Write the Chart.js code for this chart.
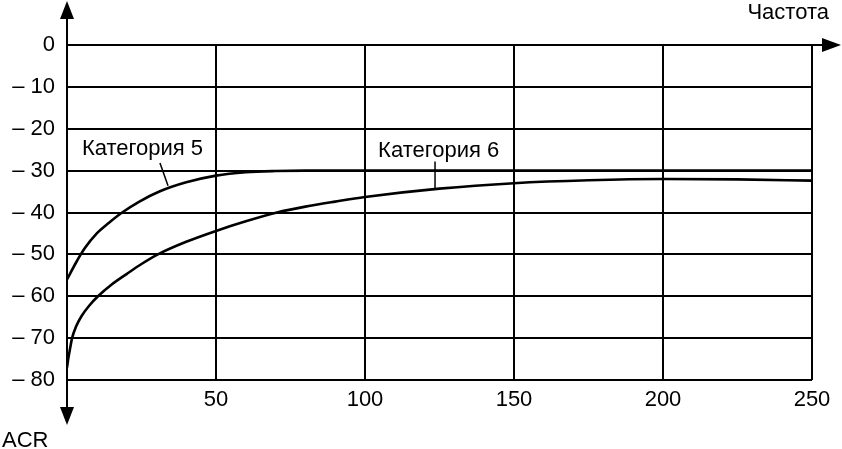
<!DOCTYPE html>
<html>
<head>
<meta charset="utf-8">
<script src="https://cdn.jsdelivr.net/npm/chart.js@4.4.1/dist/chart.umd.min.js"></script>
<style>
  html, body { margin: 0; padding: 0; background: #fff; }
  .chart-container { width: 842px; height: 449px; position: relative; }
</style>
</head>
<body>
<div class="chart-container"><canvas id="myChart"></canvas></div>
<script>
// Données
const xTicks = [0, 50, 100, 150, 200, 250];
const yTicks = [0, -10, -20, -30, -40, -50, -60, -70, -80];

const cat5X = [0, 3, 6, 10, 14, 18.5, 24, 31, 40, 50, 60, 70, 80, 100, 150, 200, 250];
const cat5Y = [-56, -52, -48.5, -45, -42.5, -40, -37.5, -35, -32.8, -31.2, -30.4, -30.1, -30, -30, -30, -30, -30];

const cat6X = [0, 0.5, 1, 1.7, 3, 5, 7.5, 10.4, 15, 20, 25, 30.5, 40, 50, 60, 70.5, 80, 90, 100, 125, 150, 175, 200, 225, 250];
const cat6Y = [-77, -74.6, -72.6, -70, -67.3, -64.6, -62.2, -60, -57.2, -54.7, -52.3, -50, -47, -44.4, -42.1, -40, -38.6, -37.4, -36.3, -34.3, -33, -32.3, -32, -32.1, -32.4];

const fontFamily = '"Liberation Sans", Arial, sans-serif';
const labelFont = '22px ' + fontFamily;

function toPoints(xs, ys) {
    return xs.map((x, i) => ({ x: x, y: ys[i] }));
}

// Flèches des axes, titres et étiquettes des courbes
const decorPlugin = {
    id: 'decor',
    afterDraw(chart) {
        const ctx = chart.ctx;
        const xs = chart.scales.x;
        const ys = chart.scales.y;
        const x0 = xs.getPixelForValue(0);
        const y0 = ys.getPixelForValue(0);

        ctx.save();
        ctx.strokeStyle = '#000';
        ctx.fillStyle = '#000';
        ctx.lineWidth = 2;

        // axe Y prolongé
        ctx.beginPath();
        ctx.moveTo(x0, 12);
        ctx.lineTo(x0, 415);
        ctx.stroke();
        // axe X prolongé
        ctx.beginPath();
        ctx.moveTo(x0, y0);
        ctx.lineTo(830, y0);
        ctx.stroke();

        // pointes de flèches
        ctx.beginPath();
        ctx.moveTo(x0, 1); ctx.lineTo(x0 - 7, 19); ctx.lineTo(x0 + 7, 19); ctx.closePath();
        ctx.fill();
        ctx.beginPath();
        ctx.moveTo(x0, 425); ctx.lineTo(x0 - 7, 407); ctx.lineTo(x0 + 7, 407); ctx.closePath();
        ctx.fill();
        ctx.beginPath();
        ctx.moveTo(841, y0); ctx.lineTo(822, y0 - 7); ctx.lineTo(822, y0 + 7); ctx.closePath();
        ctx.fill();

        // titres des axes
        ctx.font = labelFont;
        ctx.textBaseline = 'alphabetic';
        ctx.textAlign = 'right';
        ctx.fillText('Частота', 829, 19);
        ctx.textAlign = 'left';
        ctx.fillText('ACR', 2, 447);

        // étiquettes des courbes
        ctx.fillText('Категория 5', xs.getPixelForValue(5), ys.getPixelForValue(-26.2));
        ctx.fillText('Категория 6', xs.getPixelForValue(104.4), ys.getPixelForValue(-26.7));

        // traits de rappel
        ctx.lineWidth = 1.5;
        ctx.beginPath();
        ctx.moveTo(xs.getPixelForValue(31.2), ys.getPixelForValue(-28.2));
        ctx.lineTo(xs.getPixelForValue(33.9), ys.getPixelForValue(-33.6));
        ctx.stroke();
        ctx.beginPath();
        ctx.moveTo(xs.getPixelForValue(123.5), ys.getPixelForValue(-27.8));
        ctx.lineTo(xs.getPixelForValue(123.5), ys.getPixelForValue(-34.3));
        ctx.stroke();
        ctx.restore();
    }
};

const config = {
    type: 'line',
    data: {
        datasets: [{
            label: 'Категория 5',
            data: toPoints(cat5X, cat5Y),
            borderColor: '#000',
            borderWidth: 2.6,
            pointRadius: 0,
            cubicInterpolationMode: 'monotone',
            fill: false
        },
        {
            label: 'Категория 6',
            data: toPoints(cat6X, cat6Y),
            borderColor: '#000',
            borderWidth: 2.6,
            pointRadius: 0,
            cubicInterpolationMode: 'monotone',
            fill: false
        }]
    },
    options: {
        responsive: true,
        maintainAspectRatio: false,
        animation: false,
        layout: {
            padding: { top: 45, right: 30, left: 0, bottom: 0 }
        },
        scales: {
            x: {
                type: 'linear',
                min: 0,
                max: 250,
                afterFit: (s) => { s.height = 69; },
                afterBuildTicks: (s) => { s.ticks = xTicks.map(v => ({ value: v })); },
                border: { display: false },
                grid: { color: '#000', lineWidth: 2, drawTicks: false },
                ticks: {
                    color: '#000',
                    padding: 7,
                    font: { family: fontFamily, size: 22 },
                    maxRotation: 0,
                    callback: (v) => v === 0 ? '' : String(v)
                }
            },
            y: {
                min: -80,
                max: 0,
                afterFit: (s) => { s.width = 67; },
                afterBuildTicks: (s) => { s.ticks = yTicks.map(v => ({ value: v })); },
                border: { display: false },
                grid: { color: '#000', lineWidth: 2, drawTicks: false },
                ticks: {
                    color: '#000',
                    padding: 12,
                    font: { family: fontFamily, size: 22 },
                    callback: (v) => v === 0 ? '0' : '– ' + Math.abs(v)
                }
            }
        },
        plugins: {
            legend: { display: false },
            tooltip: { enabled: false }
        }
    },
    plugins: [decorPlugin]
};

const ctx = document.getElementById('myChart').getContext('2d');
new Chart(ctx, config);
</script>
</body>
</html>
